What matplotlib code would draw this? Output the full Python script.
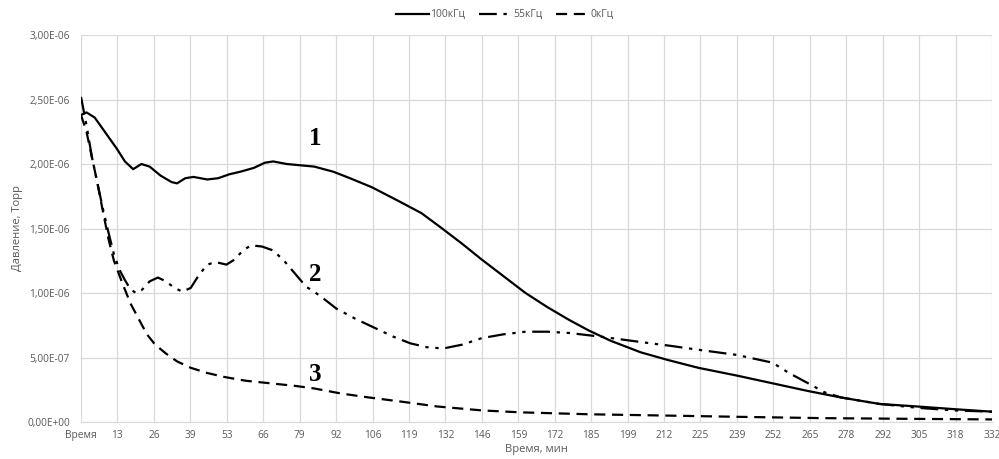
import numpy as np
import matplotlib.pyplot as plt

# time, min / pressure, 1e-6 Torr
t1 = [0, 2, 5, 9, 13, 16, 19, 22, 25, 29, 33, 35, 38, 41, 46, 50, 54, 58, 63, 67, 70, 75, 80, 85,
      92, 98, 106, 116, 124, 131, 139, 146, 154, 162, 170, 178, 185, 193, 204, 214, 225, 239,
      252, 265, 277, 291, 305, 318, 332]
p1 = [2.38, 2.40, 2.36, 2.24, 2.12, 2.02, 1.96, 2.00, 1.98, 1.91, 1.86, 1.85, 1.89, 1.90, 1.88,
      1.89, 1.92, 1.94, 1.97, 2.01, 2.02, 2.00, 1.99, 1.98, 1.94, 1.89, 1.82, 1.71, 1.62, 1.51,
      1.38, 1.26, 1.13, 1.00, 0.89, 0.79, 0.71, 0.63, 0.54, 0.48, 0.42, 0.36, 0.30, 0.24, 0.19,
      0.14, 0.12, 0.10, 0.08]

t2 = [0, 2, 4, 6, 8, 10, 12, 14, 16, 18, 20, 22, 25, 28, 31, 34, 37, 40, 43, 46, 49, 53, 56, 59,
      62, 66, 70, 74, 78, 82, 87, 93, 100, 107, 114, 120, 126, 132, 139, 146, 154, 162, 170,
      178, 190, 204, 215, 225, 239, 252, 258, 265, 271, 277, 291, 305, 318, 332]
p2 = [2.52, 2.30, 2.05, 1.85, 1.65, 1.47, 1.30, 1.18, 1.10, 1.03, 1.00, 1.02, 1.09, 1.12, 1.09,
      1.04, 1.01, 1.04, 1.14, 1.22, 1.24, 1.22, 1.26, 1.33, 1.37, 1.36, 1.33, 1.25, 1.15, 1.05,
      0.98, 0.88, 0.80, 0.73, 0.66, 0.61, 0.58, 0.57, 0.60, 0.65, 0.68, 0.70, 0.70, 0.69, 0.66,
      0.62, 0.59, 0.56, 0.52, 0.46, 0.38, 0.30, 0.23, 0.19, 0.14, 0.11, 0.09, 0.08]

t3 = [0, 2, 4, 6, 8, 10, 12, 15, 18, 21, 24, 27, 31, 35, 40, 46, 52, 60, 69, 78, 85, 95, 105,
      116, 130, 146, 160, 185, 213, 240, 270, 300, 332]
p3 = [2.38, 2.25, 2.05, 1.85, 1.63, 1.42, 1.25, 1.08, 0.92, 0.80, 0.68, 0.60, 0.53, 0.47, 0.42,
      0.38, 0.35, 0.32, 0.30, 0.28, 0.26, 0.22, 0.19, 0.16, 0.12, 0.09, 0.075, 0.06, 0.05, 0.04,
      0.03, 0.025, 0.02]

xlabels = ["Время", "13", "26", "39", "53", "66", "79", "92", "106", "119", "132", "146", "159",
           "172", "185", "199", "212", "225", "239", "252", "265", "278", "292", "305", "318", "332"]
yticks = [0, 0.5e-6, 1.0e-6, 1.5e-6, 2.0e-6, 2.5e-6, 3.0e-6]
ylabels = ["0,00E+00", "5,00E-07", "1,00E-06", "1,50E-06", "2,00E-06", "2,50E-06", "3,00E-06"]

grey = "#595959"
plt.rcParams['font.family'] = ['Open Sans', 'DejaVu Sans']

fig = plt.figure(figsize=(9.99, 4.59), dpi=100)
ax = fig.add_axes([0.0811, 0.0806, 0.9119, 0.8431])

s = 1e-6
ax.plot(t1, np.array(p1) * s, color="black", lw=1.6, label="100кГц")
ax.plot(t2, np.array(p2) * s, color="black", lw=1.6, dashes=(8, 3, 1.5, 3, 1.5, 3), label="55кГц")
ax.plot(t3, np.array(p3) * s, color="black", lw=1.6, dashes=(5, 3), label="0кГц")

ax.set_xlim(0, 332)
ax.set_ylim(0, 3.0e-6)
ax.set_xticks(np.linspace(0, 332, len(xlabels)))
ax.set_xticklabels(xlabels)
ax.set_yticks(yticks)
ax.set_yticklabels(ylabels)
ax.tick_params(axis="both", length=0, labelsize=7.3, colors=grey)
ax.tick_params(axis="y", pad=8)
ax.tick_params(axis="x", pad=6)
ax.grid(True, color="#d9d9d9", lw=0.9)
ax.set_axisbelow(True)
for sp in ["top", "right", "left"]:
    ax.spines[sp].set_visible(False)
ax.spines["bottom"].set_color("#d9d9d9")

ax.set_xlabel("Время, мин", fontsize=8, color=grey, labelpad=2)
ax.set_ylabel("Давление, Торр", fontsize=8, color=grey, labelpad=3)

for txt, py in [("1", 2.20e-6), ("2", 1.14e-6), ("3", 0.37e-6)]:
    ax.text(85.3, py, txt, fontsize=18, fontweight="bold", family="Liberation Serif",
            ha="center", va="center")

leg = fig.legend(loc="upper center", bbox_to_anchor=(0.505, 1.0), ncol=3, frameon=False,
                 fontsize=7.5, handlelength=3.2, handletextpad=0.1, columnspacing=1.3)
for tx in leg.get_texts():
    tx.set_color(grey)

fig.savefig("out.png", dpi=100)
